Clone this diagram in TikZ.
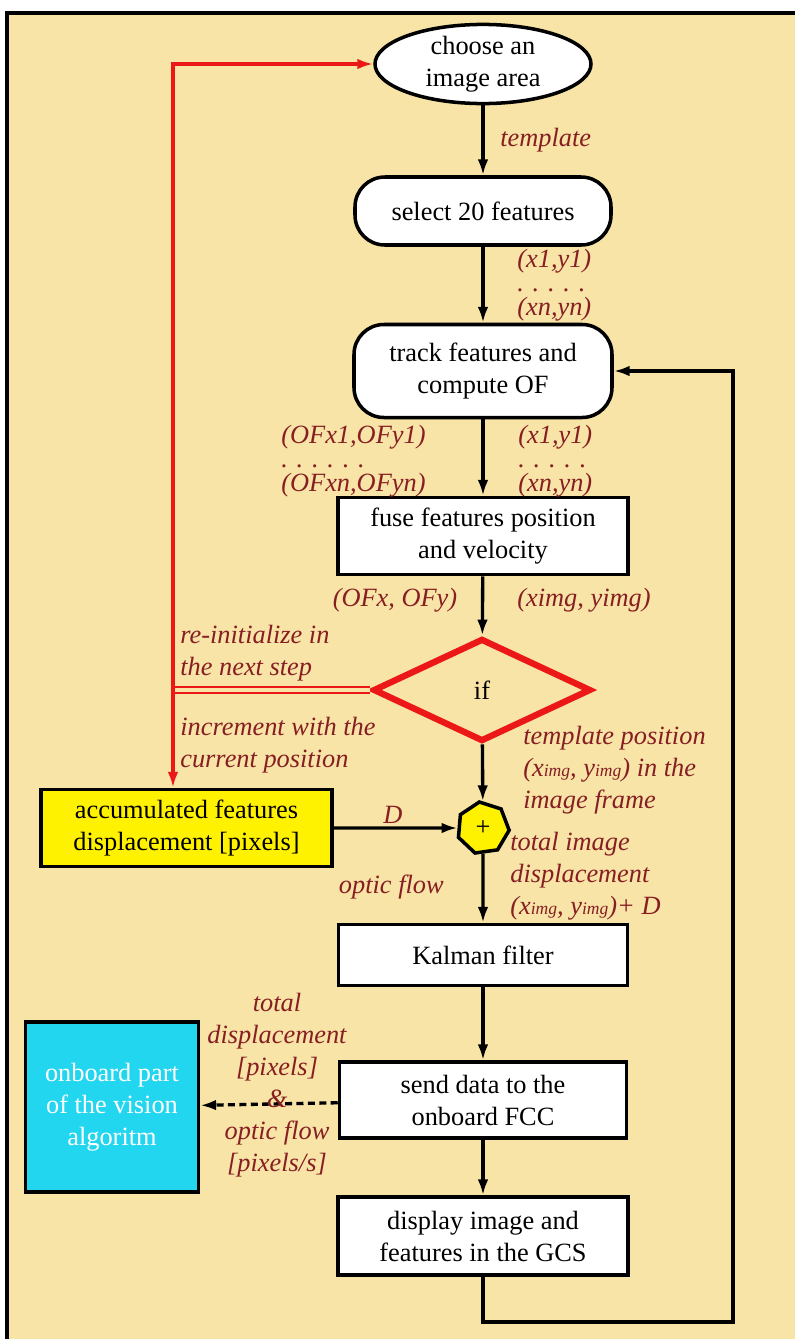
\documentclass[tikz,border=0pt]{standalone}
\usepackage{fontspec}
\setmainfont{Liberation Serif}
\usetikzlibrary{shapes,arrows,arrows.meta,positioning,calc}

\definecolor{paper}{RGB}{247,228,166}
\definecolor{labelred}{RGB}{135,30,35}
\definecolor{flowred}{RGB}{236,24,24}
\definecolor{cyanbox}{RGB}{34,214,240}
\newcommand{\imgsub}{{\fontsize{10}{10}\selectfont img}}

\begin{document}
\begin{tikzpicture}[
    block/.style={draw, rectangle, line width=2pt, fill=white, align=center, inner sep=0pt, font=\fontsize{15}{18.2}\selectfont},
    rblock/.style={block, rounded corners=17pt},
    edge/.style={-{Latex[length=9pt,width=6pt]}, line width=1.9pt, draw=black},
    redline/.style={-{Latex[length=9pt,width=6pt]}, line width=2pt, draw=flowred},
    label/.style={font=\fontsize{15}{18.2}\selectfont\itshape, text=labelred, align=left, inner sep=0pt},
    dotlabel/.style={label, font=\fontsize{15}{13.6}\selectfont\itshape},
]

% Frame
\useasboundingbox[fill=white] (0,0) rectangle (15.9,-26.78);
\fill[paper] (0.14,-0.26) rectangle (15.9,-26.78);
\draw[line width=1.8pt] (0.14,-26.78) -- (0.14,-0.26) -- (15.9,-0.26);

% Main column
\node[block, ellipse, minimum width=4.32cm, minimum height=1.44cm] (img) at (9.66,-1.28) {choose an\\image area};
\node[rblock, minimum width=5.12cm, minimum height=1.36cm] (sel) at (9.66,-4.22) {select 20 features};
\node[rblock, minimum width=5.16cm, minimum height=1.86cm] (track) at (9.66,-7.42) {track features and\\compute OF};
\node[block, minimum width=5.8cm, minimum height=1.54cm] (fuse) at (9.66,-10.72) {fuse features position\\and velocity};
\node[diamond, draw=flowred, line width=3.6pt, minimum width=4.36cm, minimum height=2.06cm, inner sep=0pt, font=\fontsize{15}{18.2}\selectfont] (ifnode) at (9.64,-13.8) {if};
\node[regular polygon, regular polygon sides=7, draw, line width=2pt, fill=yellow, minimum size=1.05cm, inner sep=0pt, shape border rotate=8, font=\fontsize{15}{18.2}\selectfont] (sum) at (9.66,-16.56) {+};
\node[block, minimum width=5.78cm, minimum height=1.22cm] (kal) at (9.66,-19.1) {Kalman filter};
\node[block, minimum width=5.74cm, minimum height=1.52cm] (send) at (9.66,-22.0) {send data to the\\onboard FCC};
\node[block, minimum width=5.8cm, minimum height=1.56cm] (disp) at (9.66,-24.72) {display image and\\features in the GCS};

% Side blocks
\node[block, fill=yellow, minimum width=5.82cm, minimum height=1.54cm] (acc) at (3.73,-16.56) {accumulated features\\displacement [pixels]};
\node[block, fill=cyanbox, text=white, minimum width=3.46cm, minimum height=3.4cm] (onb) at (2.24,-22.14) {onboard part\\of the vision\\algoritm};

% Helper points
\coordinate (jn) at (3.46,-13.8);
\coordinate (fbr) at (14.66,-26.44);

% Connectors
\draw[edge] (img) -- (sel);
\draw[edge] (sel) -- (track);
\draw[edge] (track) -- (fuse);
\draw[edge] (fuse) -- (ifnode);
\draw[edge] (ifnode) -- (sum);
\draw[edge] (acc) -- (sum);
\draw[edge] (sum) -- (kal);
\draw[edge] (kal) -- (send);
\draw[edge] (send) -- (disp);
\draw[edge] (disp) |- (fbr) |- (track);
\draw[edge, dash pattern=on 4pt off 2.5pt] (send) -- (onb);

% Red loop
\draw[-, line width=1.3pt, draw=flowred, double=paper, double distance=1.8pt] (ifnode.west) -- (jn);
\draw[redline] (jn) |- (img);
\draw[redline] (jn) -- (jn |- acc.north);

% Labels
\node[label, anchor=west] (lbtpl) at (10.0,-2.8) {template};
\node[dotlabel, anchor=west] (lbsel) at (10.34,-5.7) {(x1,y1)\\. . . . .\\(xn,yn)};
\node[dotlabel, anchor=west] (lbof) at (5.62,-9.22) {(OFx1,OFy1)\\. . . . . .\\(OFxn,OFyn)};
\node[dotlabel, anchor=west] (lbxy) at (10.36,-9.22) {(x1,y1)\\. . . . .\\(xn,yn)};
\node[label] (lbofxy) at (7.9,-12.0) {(OFx, OFy)};
\node[label, anchor=west] (lbimg) at (10.34,-12.0) {(ximg, yimg)};
\node[label, anchor=west] (lbre) at (3.6,-13.06) {re-initialize in\\the next step};
\node[label, anchor=west] (lbinc) at (3.6,-14.9) {increment with the\\current position};
\node[label, anchor=west] (lbpos) at (10.46,-15.4) {template position\\(x\imgsub, y\imgsub) in the\\image frame};
\node[label] (lbd) at (7.86,-16.3) {D};
\node[label, anchor=west] (lbtot) at (10.2,-17.52) {total image\\displacement\\(x\imgsub, y\imgsub)+ D};
\node[label, anchor=east] (lbflow) at (8.88,-17.74) {optic flow};
\node[label, align=center] (lbsend) at (5.54,-21.7) {total\\displacement\\{[pixels]}\\\&\\optic flow\\{[pixels/s]}};

\end{tikzpicture}
\end{document}
